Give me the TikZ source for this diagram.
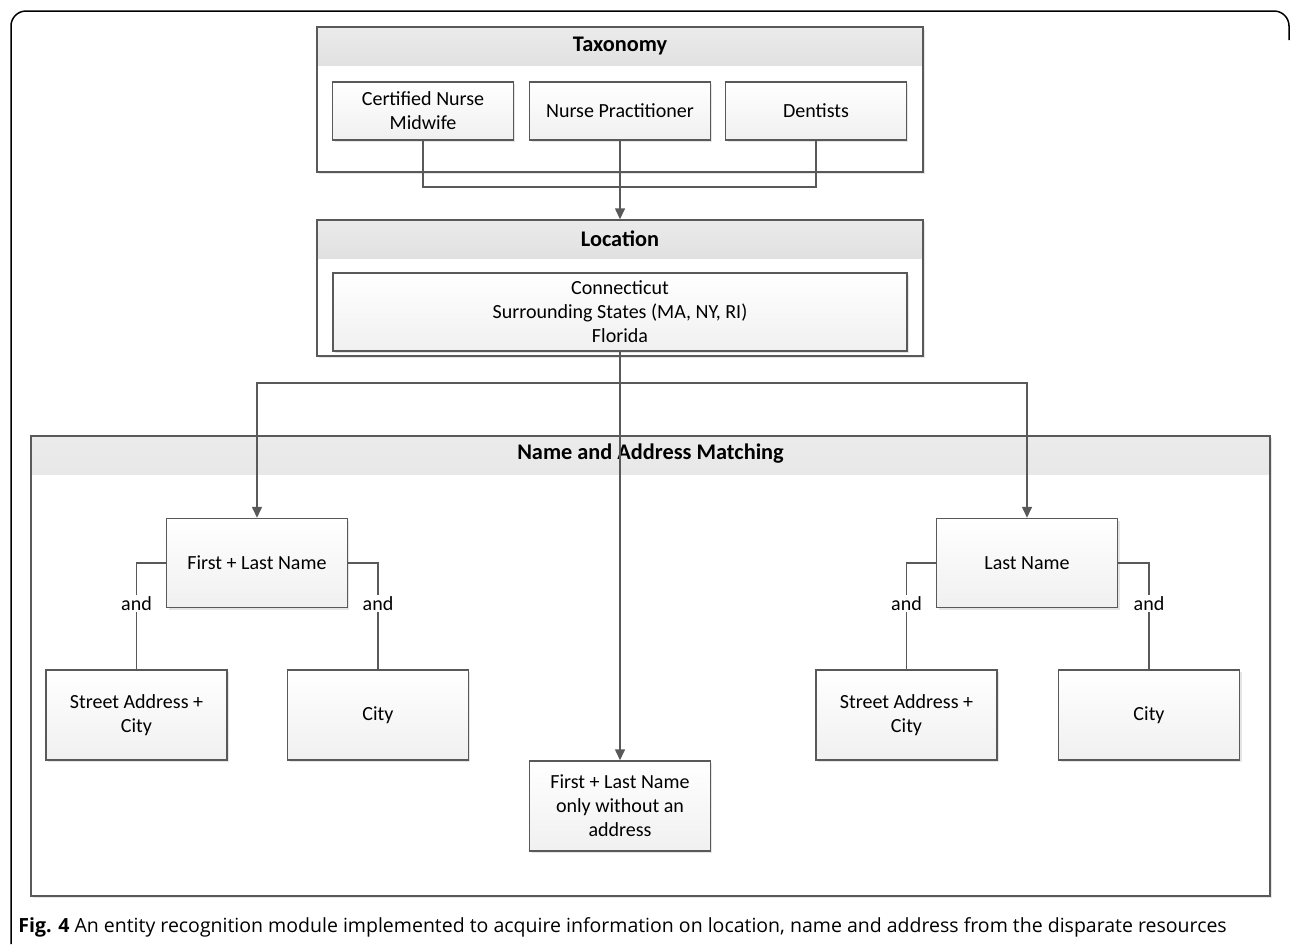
\documentclass[tikz,border=0pt]{standalone}
\usepackage{fontspec}
\setmainfont{Carlito}
\newfontfamily\capfont{Open Sans}
\usetikzlibrary{arrows.meta,positioning,shadows}
\definecolor{linegray}{HTML}{595959}
\definecolor{headtop}{HTML}{EBEBEB}
\definecolor{headbot}{HTML}{C6C6C6}
\definecolor{boxbot}{HTML}{F0F0F0}
\tikzset{
  panel/.style={draw=linegray,line width=0.03cm,fill=white,
    drop shadow={shadow xshift=0.04cm,shadow yshift=-0.04cm,fill=black,opacity=0.1},
    path picture={\shade[top color=headtop,bottom color=headbot]
      (path picture bounding box.north west) rectangle
      ([yshift=-0.76cm]path picture bounding box.north east);}},
  paneltitle/.style={font=\fontsize{12.7}{15}\selectfont\bfseries},
  entry/.style={draw=linegray,line width=0.03cm,top color=white,bottom color=boxbot,
    align=center,minimum width=3.62cm,inner sep=2pt,
    drop shadow={shadow xshift=0.04cm,shadow yshift=-0.04cm,fill=black,opacity=0.1}},
  link/.style={draw=linegray,line width=0.03cm},
  arr/.style={link,-{Triangle[width=0.2cm,length=0.22cm]}},
  andlabel/.style={fill=white,inner sep=1pt}
}
\begin{document}
\begin{tikzpicture}[x=0.02cm,y=-0.02cm,
  every node/.style={font=\fontsize{11.4}{13.7}\selectfont}]
\useasboundingbox (0,0) rectangle (1290,944);
% page frame
\draw[black,line width=0.03cm,rounded corners=0.3cm] (11,944) -- (11,11) -- (1289,11) -- (1289,40);

% Taxonomy
\node[panel,minimum width=12.12cm,minimum height=2.9cm] (taxo) at (620,99.5) {};
\node[paneltitle] (taxotitle) at (620,46) {Taxonomy};
\node[entry,minimum height=1.16cm] (cnm) at (423,111) {Certified Nurse\\Midwife};
\node[entry,minimum height=1.16cm] (np) at (620,111) {Nurse Practitioner};
\node[entry,minimum height=1.16cm] (dent) at (816,111) {Dentists};

% Location
\node[panel,minimum width=12.12cm,minimum height=2.72cm] (loc) at (620,288) {};
\node[paneltitle] (loctitle) at (620,239) {Location};
\node[entry,minimum width=11.48cm,minimum height=1.56cm] (states) at (620,312) {Connecticut\\Surrounding States (MA, NY, RI)\\Florida};

% Name and Address Matching
\node[panel,minimum width=24.78cm,minimum height=9.2cm] (match) at (650.5,666) {};
\node[paneltitle] (matchtitle) at (650.5,454) {Name and Address Matching};
\node[entry,minimum height=1.78cm] (fl) at (257,563) {First + Last Name};
\node[entry,minimum height=1.8cm] (streetl) at (136.5,715) {Street Address +\\City};
\node[entry,minimum height=1.8cm] (cityl) at (378,715) {City};
\node[entry,minimum height=1.78cm] (ln) at (1027,563) {Last Name};
\node[entry,minimum height=1.8cm] (streetr) at (906.5,715) {Street Address +\\City};
\node[entry,minimum height=1.8cm] (cityr) at (1149,715) {City};
\node[entry,minimum height=1.8cm] (only) at (620,806) {First + Last Name\\only without an\\address};

% connectors
\coordinate (join) at (620,187);
\coordinate (split) at (620,383);
\draw[link] (cnm.south) |- (join) -| (dent.south);
\draw[arr] (np.south) -- (np.south |- loc.north);
\draw[arr] (states.south) -- (only.north);
\draw[arr] (split) -| (fl.north);
\draw[arr] (split) -| (ln.north);
\draw[link] (fl.west) -| node[andlabel,pos=0.69] (and1) {and} (streetl.north);
\draw[link] (fl.east) -| node[andlabel,pos=0.69] (and2) {and} (cityl.north);
\draw[link] (ln.west) -| node[andlabel,pos=0.69] (and3) {and} (streetr.north);
\draw[link] (ln.east) -| node[andlabel,pos=0.69] (and4) {and} (cityr.north);

% caption
\node[anchor=base west,inner sep=0pt,font=\fontsize{11.1}{13.4}\capfont] (caption) at (18,932)
  {\textbf{Fig. 4} An entity recognition module implemented to acquire information on location, name and address from the disparate resources};
\end{tikzpicture}
\end{document}
